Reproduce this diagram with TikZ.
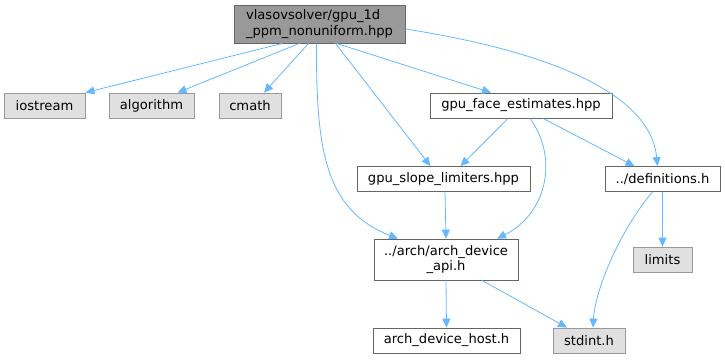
\documentclass[tikz,border=0pt]{standalone}
\usepackage{fontspec}
\setmainfont{DejaVu Sans}
\usetikzlibrary{arrows.meta,calc}
\definecolor{incEdge}{HTML}{63B8FF}
\definecolor{incMain}{HTML}{999999}
\definecolor{incSys}{HTML}{E0E0E0}
\definecolor{incLine}{HTML}{666666}
\definecolor{incSysLine}{HTML}{999999}

\begin{document}
\begin{tikzpicture}[x=1pt, y=-1pt,
    every node/.style={font=\fontsize{13.1}{15.5}\selectfont, inner sep=0pt, minimum height=25pt},
    filebox/.style={draw=incLine, fill=white, thick},
    sysbox/.style={draw=incSysLine, fill=incSys, thick},
    mainbox/.style={draw=incLine, fill=incMain, thick},
    dep/.style={incEdge, thick, -{Triangle[length=9pt,width=8pt]}}]
  \useasboundingbox (0,0) rectangle (725,359);

  \node[mainbox, minimum width=171pt, minimum height=38pt, align=left] (main) at (319.5,24) {vlasovsolver/gpu\_1d\\\_ppm\_nonuniform.hpp};
  \node[sysbox, minimum width=81pt] (iostream) at (44.5,105.5) {iostream};
  \node[sysbox, minimum width=85pt] (algorithm) at (151.5,105.5) {algorithm};
  \node[sysbox, minimum width=62pt] (cmath) at (250,105.5) {cmath};
  \node[filebox, minimum width=182pt] (face) at (521,105.5) {gpu\_face\_estimates.hpp};
  \node[filebox, minimum width=173pt] (slope) at (443.5,179) {gpu\_slope\_limiters.hpp};
  \node[filebox, minimum width=115pt] (defs) at (662.5,179) {../definitions.h};
  \node[filebox, minimum width=144pt, minimum height=41pt, align=center] (api) at (446,259.5) {../arch/arch\_device\\\_api.h};
  \node[sysbox, minimum width=59pt] (limits) at (662.5,259.5) {limits};
  \node[filebox, minimum width=147pt] (host) at (446.5,340.5) {arch\_device\_host.h};
  \node[sysbox, minimum width=72pt] (stdint) at (589,340.5) {stdint.h};

  % includes of the main header
  \draw[dep] ([xshift=-37pt]main.south) -- (iostream.north east);
  \draw[dep] ([xshift=-20pt]main.south) -- ([xshift=26pt]algorithm.north);
  \draw[dep] ([xshift=-11pt]main.south) -- ([xshift=14pt]cmath.north);
  \draw[dep] ([xshift=17pt]main.south) -- ([xshift=-30pt]face.north);
  \draw[dep] ([xshift=16pt]main.south) -- ([xshift=-13pt]slope.north);
  \draw[dep] ([xshift=-3pt]main.south) .. controls (316,150) and (325,210) .. ([xshift=-48pt]api.north);
  \draw[dep] ([yshift=-5pt]main.east) .. controls (540,50) and (650,90) .. ([xshift=-5pt]defs.north);

  % second level
  \draw[dep] ([xshift=-13pt]face.south) -- ([xshift=17pt]slope.north);
  \draw[dep] ([xshift=9pt]face.south) .. controls (560,160) and (545,215) .. ([xshift=51pt]api.north);
  \draw[dep] ([xshift=22pt]face.south) -- ([xshift=-28pt]defs.north);
  \draw[dep] ([xshift=1.5pt]slope.south) -- (api.north);
  \draw[dep] (defs.south) -- (limits.north);
  \draw[dep] ([xshift=-10pt]defs.south) .. controls (620,230) and (595,290) .. ([xshift=4pt]stdint.north);
  \draw[dep] (api.south) -- (host.north);
  \draw[dep] ([xshift=36pt]api.south) -- ([xshift=-22pt]stdint.north);
\end{tikzpicture}
\end{document}
